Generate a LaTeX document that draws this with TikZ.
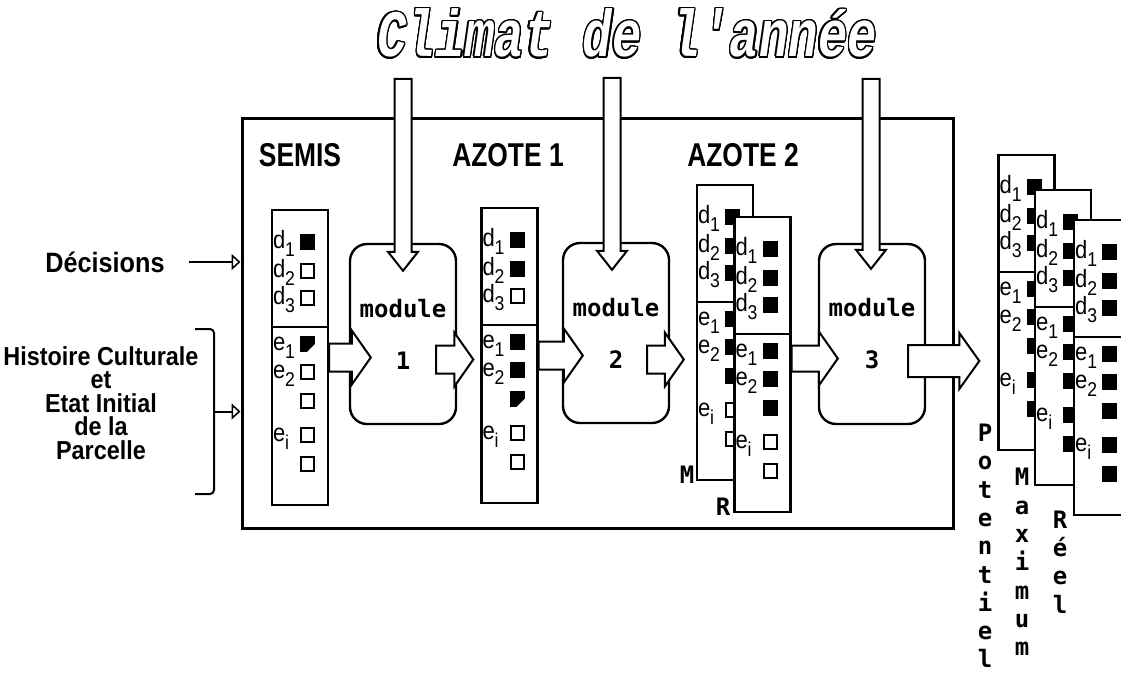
\documentclass[tikz,border=0pt]{standalone}
\usepackage{fontspec}
\usepackage{graphicx}
\usepackage{contour}
\contourlength{1.3pt}
\contournumber{24}
\usepackage{tikz}
\usetikzlibrary{arrows.meta, calc}

\newfontfamily\titrefont{Liberation Mono}
\newfontfamily\tetefont{Liberation Sans}[FakeStretch=0.8]
\newfontfamily\cotefont{Liberation Sans}[FakeStretch=0.9]
\newfontfamily\pilefont{Liberation Sans}[FakeStretch=0.88]
\newfontfamily\modfont{DejaVu Sans Mono}

\newcommand\sous[1]{\raisebox{-8pt}{\fontsize{20}{20}\selectfont #1}}

% pile of decision/state boxes: name, centre, states of the 8 squares
\newcommand\pile[3]{%
  \node[pilebox] (#1) at (#2) {};
  \draw[pilesep] ([yshift=-118pt]#1.north west) -- ([yshift=-118pt]#1.north east);
  \foreach \st [count=\i] in {#3} {
    \pgfmathsetmacro\dy{{33,62,89,135,163,192,226,255}[\i-1]}
    \node[carre/.expanded=\st] at ([xshift=37pt,yshift=-\dy pt]#1.north west) {};
  }
  \foreach \dy/\lab in {33/d\sous1, 62/d\sous2, 89/d\sous3, 135/e\sous1, 163/e\sous2, 226/e\sous i} {
    \pgfmathsetmacro\yb{\dy+7}
    \node[pilelab] at ([xshift=2pt,yshift=-\yb pt]#1.north west) {\lab};
  }
}

% block arrows: from, to, half shaft, half head, head length
\newcommand\flecheH[5]{%
  \draw[bloc] ([yshift=#3pt]#1) -- ([xshift=-#5pt,yshift=#3pt]#2) -- ([xshift=-#5pt,yshift=#4pt]#2)
    -- (#2) -- ([xshift=-#5pt,yshift=-#4pt]#2) -- ([xshift=-#5pt,yshift=-#3pt]#2) -- ([yshift=-#3pt]#1) -- cycle;}
\newcommand\flecheV[5]{%
  \draw[bloc] ([xshift=-#3pt]#1) -- ([xshift=-#3pt,yshift=#5pt]#2) -- ([xshift=-#4pt,yshift=#5pt]#2)
    -- (#2) -- ([xshift=#4pt,yshift=#5pt]#2) -- ([xshift=#3pt,yshift=#5pt]#2) -- ([xshift=#3pt]#1) -- cycle;}

\begin{document}
\begin{tikzpicture}[x=1pt, y=-1pt,
  cadre/.style={draw, line width=3pt, minimum width=711pt, minimum height=410pt, inner sep=0pt},
  modbox/.style={draw, line width=2.4pt, fill=white, rounded corners=17pt, minimum width=106pt,
    minimum height=180pt, align=center, font=\modfont\bfseries\fontsize{24}{28}\selectfont},
  pilebox/.style={draw, line width=2.4pt, fill=white, minimum width=56pt, minimum height=295pt, inner sep=0pt},
  pilesep/.style={line width=2pt},
  sqF/.style={fill=black, minimum width=15pt, minimum height=16pt, inner sep=0pt},
  sqE/.style={draw, line width=1.8pt, fill=white, minimum width=13pt, minimum height=14pt, inner sep=0pt},
  sqH/.style={sqF, path picture={\fill[white] (path picture bounding box.south east) -- ++(-8pt,0pt) -- ++(8pt,8pt) -- cycle;}},
  carre/.style={sq#1},
  pilelab/.style={anchor=base west, inner sep=0pt, font=\pilefont\fontsize{25}{25}\selectfont},
  tete/.style={font=\tetefont\bfseries\fontsize{33}{33}\selectfont, inner sep=0pt},
  cote/.style={font=\cotefont\bfseries\fontsize{26}{23.5}\selectfont, align=center, inner sep=0pt},
  mono/.style={font=\modfont\bfseries\fontsize{24}{28.3}\selectfont, inner sep=0pt, align=center},
  bloc/.style={draw, fill=white, line width=2pt, line join=miter},
  entree/.style={line width=2pt, -{Triangle[open, length=9pt, width=16pt, line width=1.6pt]}},
  accolade/.style={line width=2pt, rounded corners=4pt}
]
\useasboundingbox (0,0) rectangle (1121,675);

% Title
\node[inner sep=0pt, font=\titrefont\bfseries\itshape\fontsize{49}{50}\selectfont] (climat) at (627,34)
  {\scalebox{1}[1.35]{\color{white}\contour{black}{Climat de l'année}}};

% Frame of the simulated field
\node[cadre] (cadre) at (597.5,323) {};

% Inputs on the left
\node[cote, font=\cotefont\bfseries\fontsize{28}{28}\selectfont] (decisions) at (105,262) {Décisions};
\draw[entree] ([xshift=24pt]decisions.east) -- (cadre.west |- decisions.east);

\node[cote] (histoire) at (101,403) {Histoire Culturale\\et\\Etat Initial\\de la\\Parcelle};
\draw[accolade] (195,329) -- (214,329) -- (214,494) -- (195,494);
\coordinate (accol) at (214,411.5);
\draw[entree] (accol) -- (cadre.west |- accol);

% Stage titles
\node[tete] (lsemis) at (300,155) {SEMIS};
\node[tete] (lazote1) at (508,155) {AZOTE 1};
\node[tete] (lazote2) at (743,155) {AZOTE 2};

% Modules
\node[modbox] (mod1) at (403,334) {\\[-10pt]module\\[24pt]1};
\node[modbox] (mod2) at (616,333) {\\[-10pt]module\\[24pt]2};
\node[modbox] (mod3) at (872,334) {\\[-10pt]module\\[24pt]3};

% Piles
\pile{semis}{300,357.5}{F,E,E,H,E,E,E,E}
\pile{azote1}{509.5,355.5}{F,F,E,F,F,H,E,E}
\pile{az2m}{725,332.5}{F,F,F,F,F,F,E,E}
\pile{az2r}{762.5,364.5}{F,F,F,F,F,F,E,E}
\node[mono] (labm) at (687,475) {M};
\node[mono] (labr) at (723,507) {R};

\pile{pot}{1026.5,302.5}{F,F,F,F,F,F,F,F}
\pile{max}{1063,337.5}{F,F,F,F,F,F,F,F}
\pile{reel}{1102,367.5}{F,F,F,F,F,F,F,F}

% Output names
\node[mono] (motpot) at (985,546) {P\\o\\t\\e\\n\\t\\i\\e\\l};
\node[mono] (motmax) at (1022,562) {M\\a\\x\\i\\m\\u\\m};
\node[mono] (motreel) at (1060,562) {R\\é\\e\\l};

% Climate arrows
\coordinate (c1s) at ([yshift=164pt]mod1.north);
\coordinate (c1e) at ([yshift=-28pt]mod1.north);
\coordinate (c2s) at ([yshift=164pt,xshift=-4pt]mod2.north);
\coordinate (c2e) at ([yshift=-28pt,xshift=-4pt]mod2.north);
\coordinate (c3s) at ([yshift=164pt,xshift=-1pt]mod3.north);
\coordinate (c3e) at ([yshift=-26pt,xshift=-1pt]mod3.north);
\flecheV{c1s}{c1e}{8.5}{15}{19}
\flecheV{c2s}{c2e}{8.5}{15}{19}
\flecheV{c3s}{c3e}{8.5}{15}{19}

% Flow arrows
\coordinate (a1s) at (semis.east);
\coordinate (a1e) at ($(mod1.west |- semis.east)+(22,0)$);
\coordinate (a2s) at ($(mod1.east |- semis.east)+(-21,2)$);
\coordinate (a2e) at ($(azote1.west |- a2s)+(-7,0)$);
\coordinate (a3s) at (azote1.east);
\coordinate (a3e) at ($(mod2.west |- azote1.east)+(21,0)$);
\coordinate (a4s) at ($(mod2.east |- azote1.east)+(-23,4)$);
\coordinate (a4e) at ($(az2m.west |- a4s)+(-12,0)$);
\coordinate (a5s) at ($(az2r.east)+(0,-6)$);
\coordinate (a5e) at ($(mod3.west |- a5s)+(20,0)$);
\coordinate (a6s) at ($(mod3.east)+(-18,27)$);
\coordinate (a6e) at ($(pot.west |- a6s)+(-18,0)$);
\flecheH{a1s}{a1e}{14}{27}{19}
\flecheH{a2s}{a2e}{14}{27}{19}
\flecheH{a3s}{a3e}{14}{27}{19}
\flecheH{a4s}{a4e}{14}{27}{19}
\flecheH{a5s}{a5e}{13}{27}{19}
\flecheH{a6s}{a6e}{16}{28}{20}

\end{tikzpicture}
\end{document}
